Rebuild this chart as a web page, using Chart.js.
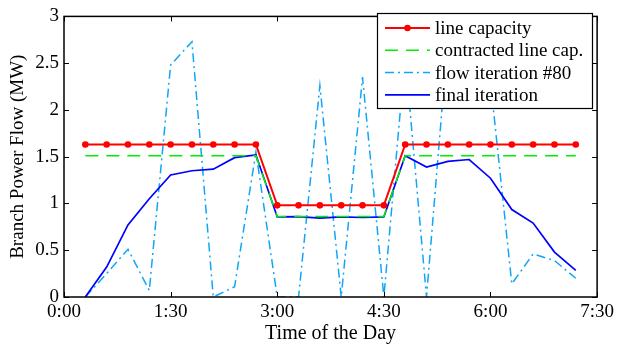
<!DOCTYPE html>
<html>
<head>
<meta charset="utf-8">
<script src="https://cdn.jsdelivr.net/npm/chart.js@4.4.0/dist/chart.umd.min.js"></script>
<style>
  html, body { margin: 0; padding: 0; background: #fff; }
  #wrap { width: 618px; height: 350px; }
</style>
</head>
<body>
<div id="wrap"><canvas id="flowchart" width="618" height="350"></canvas></div>
<script>
// time of the day in minutes (one sample every 18 min)
var times = [18, 36, 54, 72, 90, 108, 126, 144, 162, 180, 198, 216,
             234, 252, 270, 288, 306, 324, 342, 360, 378, 396, 414, 432];
var lineCapacity = [1.63, 1.63, 1.63, 1.63, 1.63, 1.63, 1.63, 1.63, 1.63, 0.98, 0.98, 0.98,
                    0.98, 0.98, 0.98, 1.63, 1.63, 1.63, 1.63, 1.63, 1.63, 1.63, 1.63, 1.63];
var contractedCap = [1.51, 1.51, 1.51, 1.51, 1.51, 1.51, 1.51, 1.51, 1.51, 0.86, 0.86, 0.86,
                     0.86, 0.86, 0.86, 1.51, 1.51, 1.51, 1.51, 1.51, 1.51, 1.51, 1.51, 1.51];
var flowIter80 = [0, 0.25, 0.51, 0.07, 2.48, 2.73, 0, 0.11, 1.55, 0, 0, 2.26,
                  0, 2.35, 0, 2.58, 0, 2.77, 2.6, 2.3, 0.14, 0.46, 0.39, 0.2];
var finalIter = [0, 0.32, 0.77, 1.05, 1.305, 1.35, 1.367, 1.49, 1.52, 0.856, 0.86, 0.843,
                 0.856, 0.85, 0.856, 1.51, 1.39, 1.45, 1.47, 1.27, 0.935, 0.79, 0.48, 0.285];
var xTicks = [0, 90, 180, 270, 360, 450];
var yTicks = [0, 0.5, 1, 1.5, 2, 2.5, 3];

var serif = "'Liberation Serif', 'Times New Roman', serif";

function pts(vals) {
  return times.map(function(t, i) { return { x: t, y: vals[i] }; });
}
function hhmm(m) {
  var h = Math.floor(m / 60), mm = m % 60;
  return h + ':' + (mm < 10 ? '0' : '') + mm;
}

// box, inward tick marks and legend, matlab style
var boxPlugin = {
  id: 'boxPlugin',
  afterDraw: function(chart) {
    var ctx = chart.ctx, a = chart.chartArea;
    var xs = chart.scales.x, ys = chart.scales.y;
    ctx.save();
    ctx.strokeStyle = '#000';
    ctx.lineWidth = 1;
    ctx.beginPath();
    xTicks.forEach(function(v) {
      var px = Math.round(xs.getPixelForValue(v)) + 0.5;
      ctx.moveTo(px, a.bottom); ctx.lineTo(px, a.bottom - 5);
      ctx.moveTo(px, a.top); ctx.lineTo(px, a.top + 5);
    });
    yTicks.forEach(function(v) {
      var py = Math.round(ys.getPixelForValue(v)) + 0.5;
      ctx.moveTo(a.left, py); ctx.lineTo(a.left + 5, py);
      ctx.moveTo(a.right, py); ctx.lineTo(a.right - 5, py);
    });
    ctx.stroke();
    ctx.lineWidth = 1.5;
    ctx.strokeRect(a.left, a.top, a.right - a.left, a.bottom - a.top);

    // legend
    var lx = 377, ly = 13, lw = 215, lh = 95;
    ctx.fillStyle = '#fff';
    ctx.fillRect(lx, ly, lw, lh);
    ctx.lineWidth = 1.2;
    ctx.strokeStyle = '#000';
    ctx.strokeRect(lx + 0.5, ly + 0.5, lw, lh);
    ctx.font = '19px ' + serif;
    ctx.textBaseline = 'middle';
    chart.data.datasets.forEach(function(ds, i) {
      var y = ly + 15 + i * 22.3;
      ctx.strokeStyle = ds.borderColor;
      ctx.lineWidth = ds.borderWidth;
      ctx.setLineDash(ds.borderDash || []);
      ctx.beginPath();
      ctx.moveTo(385, y); ctx.lineTo(430, y);
      ctx.stroke();
      ctx.setLineDash([]);
      if (ds.pointRadius > 0) {
        ctx.fillStyle = ds.pointBackgroundColor;
        ctx.beginPath();
        ctx.arc(407.5, y, ds.pointRadius, 0, Math.PI * 2);
        ctx.fill();
      }
      ctx.fillStyle = '#000';
      ctx.fillText(ds.label, 435, y + 1);
    });
    ctx.restore();
  }
};

const CHART = document.getElementById('flowchart');

var flowChart = new Chart(CHART, {
  type: 'line',
  data: {
    datasets: [{
      label: 'line capacity',
      data: pts(lineCapacity),
      borderColor: '#ff0000',
      backgroundColor: '#ff0000',
      pointBackgroundColor: '#ff0000',
      pointBorderWidth: 0,
      pointRadius: 3.3,
      borderWidth: 2,
      order: 1
    }, {
      label: 'contracted line cap.',
      data: pts(contractedCap),
      borderColor: '#00ee00',
      borderWidth: 1.5,
      borderDash: [13, 8],
      pointRadius: 0,
      order: 2
    }, {
      label: 'flow iteration #80',
      data: pts(flowIter80),
      borderColor: '#10a6f8',
      borderWidth: 1.5,
      borderDash: [9, 4, 2, 4],
      pointRadius: 0,
      order: 4
    }, {
      label: 'final iteration',
      data: pts(finalIter),
      borderColor: '#0000ff',
      borderWidth: 1.7,
      pointRadius: 0,
      order: 3
    }]
  },
  options: {
    responsive: false,
    animation: false,
    devicePixelRatio: 1,
    layout: { padding: { left: 0, right: 18, top: 5, bottom: 0 } },
    elements: { line: { tension: 0, fill: false } },
    plugins: { legend: { display: false }, tooltip: { enabled: false } },
    scales: {
      x: {
        type: 'linear',
        min: 0,
        max: 450,
        afterBuildTicks: function(s) { s.ticks = xTicks.map(function(v) { return { value: v }; }); },
        afterFit: function(s) { s.height = 53; },
        grid: { display: false, drawTicks: false },
        border: { display: false },
        ticks: {
          color: '#000',
          padding: 4,
          maxRotation: 0,
          font: { family: serif, size: 19 },
          callback: function(v) { return hhmm(v); }
        },
        title: {
          display: true,
          text: 'Time of the Day',
          color: '#000',
          font: { family: serif, size: 20 },
          padding: { top: 0, bottom: 4 }
        }
      },
      y: {
        min: 0,
        max: 3,
        afterBuildTicks: function(s) { s.ticks = yTicks.map(function(v) { return { value: v }; }); },
        afterFit: function(s) { s.width = 64; },
        grid: { display: false, drawTicks: false },
        border: { display: false },
        ticks: {
          color: '#000',
          padding: 5,
          font: { family: serif, size: 19 },
          callback: function(v) { return String(v); }
        },
        title: {
          display: true,
          text: 'Branch Power Flow (MW)',
          color: '#000',
          font: { family: serif, size: 19 },
          padding: { top: 7, bottom: 0 }
        }
      }
    }
  },
  plugins: [boxPlugin]
});
</script>
</body>
</html>
